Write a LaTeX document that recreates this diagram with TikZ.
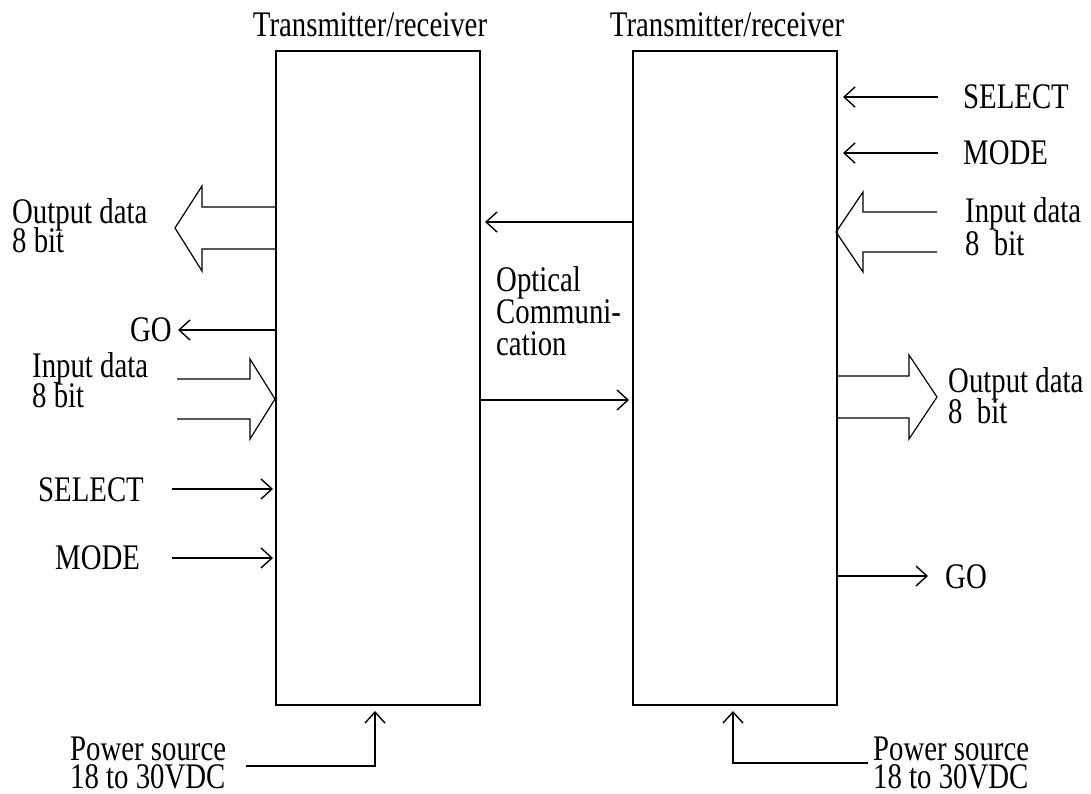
\documentclass[tikz,border=0pt]{standalone}
\usepackage{fontspec}
\setmainfont{Liberation Serif}[FakeStretch=0.8]
\usetikzlibrary{arrows.meta}
\tikzset{
  unit/.style={draw, line width=2pt, minimum width=204pt, minimum height=654pt, inner sep=0pt, anchor=north west},
  sig/.style={line width=1.4pt, -{Straight Barb[length=11pt,width=20pt,line width=1.4pt]}},
  fat/.style={line width=1.2pt, line join=miter},
  lbl/.style={inner sep=0pt, anchor=base west, font=\fontsize{36}{32}\selectfont},
}
\begin{document}
\begin{tikzpicture}[x=1pt,y=-1pt]
  \useasboundingbox (0,0) rectangle (1091,794);
  % the two units
  \node[unit] (trl) at (275,50) {};
  \node[unit] (trr) at (632,50) {};
  \node[lbl, anchor=base] (ttl) at (370,37) {Transmitter/receiver};
  \node[lbl, anchor=base] (ttr) at (727,37) {Transmitter/receiver};
  % left unit
  \draw[fat, shift={(275,228)}] (0,-21) -- (-73,-21) -- (-73,-42) -- (-100,0) -- (-73,43) -- (-73,21) -- (0,21);
  \node[lbl] (outLa) at (12,224) {Output data};
  \node[lbl] (outLb) at (12,252) {8 bit};
  \coordinate (goL) at (178,330);
  \draw[sig] (trl.west |- goL) -- (goL);
  \node[lbl] (goLt) at (130,341) {GO};
  \draw[fat, shift={(275,399)}] (-98,-20) -- (-25,-20) -- (-25,-40) -- (0,0) -- (-25,40) -- (-25,20) -- (-98,20);
  \node[lbl] (inLa) at (32,377) {Input data};
  \node[lbl] (inLb) at (32,407) {8 bit};
  \coordinate (selL) at (172,489);
  \draw[sig, shorten >=2pt] (selL) -- (trl.west |- selL);
  \node[lbl] (selLt) at (38,501) {SELECT};
  \coordinate (modL) at (172,558);
  \draw[sig, shorten >=2pt] (modL) -- (trl.west |- modL);
  \node[lbl] (modLt) at (55,569) {MODE};
  \coordinate (pwrL) at (246,766);
  \coordinate (pwrLx) at (375,766);
  \draw[sig, shorten >=5pt] (pwrL) -| (trl.south -| pwrLx);
  \node[lbl] (pwrLa) at (70,760) {Power source};
  \node[lbl] (pwrLb) at (70,788) {18 to 30VDC};
  % optical link
  \coordinate (cmTop) at (556,222);
  \draw[sig, shorten >=4pt] (trr.west |- cmTop) -- (trl.east |- cmTop);
  \coordinate (cmBot) at (556,400);
  \draw[sig, shorten >=3pt] (trl.east |- cmBot) -- (trr.west |- cmBot);
  \node[lbl] (optA) at (496,291) {Optical};
  \node[lbl] (optB) at (496,323) {Communi-};
  \node[lbl] (optC) at (496,355) {cation};
  % right unit
  \coordinate (selR) at (938,97);
  \draw[sig, shorten >=5pt] (selR) -- (trr.east |- selR);
  \node[lbl] (selRt) at (963,109) {SELECT};
  \coordinate (modR) at (938,153);
  \draw[sig, shorten >=5pt] (modR) -- (trr.east |- modR);
  \node[lbl] (modRt) at (963,165) {MODE};
  \draw[fat, shift={(836,232)}] (101,-20) -- (27,-20) -- (27,-40) -- (0,0) -- (27,40) -- (27,20) -- (101,20);
  \node[lbl] (inRa) at (965,223) {Input data};
  \node[lbl] (inRb) at (965,255) {8~~bit};
  \draw[fat, shift={(836,397)}] (0,-21) -- (73,-21) -- (73,-42) -- (101,0) -- (73,42) -- (73,21) -- (0,21);
  \node[lbl] (outRa) at (948,392) {Output data};
  \node[lbl] (outRb) at (948,423) {8~~bit};
  \coordinate (goR) at (928,576);
  \draw[sig] (trr.east |- goR) -- (goR);
  \node[lbl] (goRt) at (945,588) {GO};
  \coordinate (pwrR) at (868,763);
  \coordinate (pwrRx) at (733,763);
  \draw[sig, shorten >=5pt] (pwrR) -| (trr.south -| pwrRx);
  \node[lbl] (pwrRa) at (873,760) {Power source};
  \node[lbl] (pwrRb) at (873,788) {18 to 30VDC};
\end{tikzpicture}
\end{document}
